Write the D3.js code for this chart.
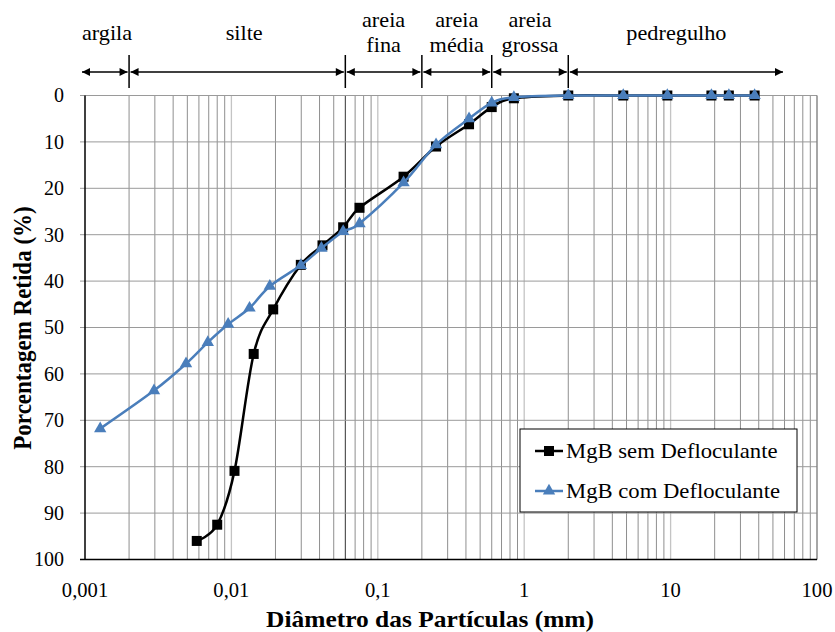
<!DOCTYPE html>
<html><head><meta charset="utf-8"><script src="https://cdn.jsdelivr.net/npm/d3@7"></script></head>
<body style="margin:0">
<svg id="s" width="835" height="632"></svg>
<script>
// ---- data ----
const diamSem = [0.0058, 0.0080, 0.0105, 0.0142, 0.0193, 0.0298, 0.0419, 0.058, 0.075, 0.15, 0.25, 0.42, 0.6, 0.85, 2.0, 4.75, 9.5, 19, 25, 37.5];
const retSem  = [96.0, 92.5, 80.9, 55.7, 46.1, 36.5, 32.3, 28.4, 24.2, 17.5, 11.0, 6.2, 2.5, 0.6, 0, 0, 0, 0, 0, 0];
const diamCom = [0.00127, 0.00296, 0.0049, 0.0069, 0.0095, 0.0133, 0.0183, 0.0298, 0.0412, 0.058, 0.075, 0.15, 0.25, 0.42, 0.6, 0.85, 2.0, 4.75, 9.5, 19, 25, 37.5];
const retCom  = [71.8, 63.6, 57.8, 53.2, 49.3, 45.8, 41.1, 36.6, 32.9, 29.3, 27.6, 18.8, 10.6, 5.0, 1.6, 0.4, 0, 0, 0, 0, 0, 0];
const seriesNames = ["MgB sem Defloculante", "MgB com Defloculante"];
const xTickValues = [0.001, 0.01, 0.1, 1, 10, 100];
const xTickLabels = ["0,001", "0,01", "0,1", "1", "10", "100"];
const yTickValues = [0, 10, 20, 30, 40, 50, 60, 70, 80, 90, 100];
const classBounds = [0.001, 0.002, 0.06, 0.2, 0.6, 2, 60];
const classNames = [["argila"], ["silte"], ["areia", "fina"], ["areia", "média"], ["areia", "grossa"], ["pedregulho"]];
const xTitle = "Diâmetro das Partículas (mm)";
const yTitle = "Porcentagem Retida (%)";
const fontName = "Liberation Serif";

// ---- layout ----
const L = 85, R = 817, T = 95.5, B = 559.5;
const svg = d3.select("#s");
const x = d3.scaleLog().domain([0.001, 100]).range([L, R]);
const y = d3.scaleLinear().domain([0, 100]).range([T, B]);

function addText(px, py, str, size, opts = {}) {
  const sx = opts.sx || 1;
  const rot = opts.rot ? ` rotate(${opts.rot})` : "";
  return svg.append("text")
    .style("font-family", `"${fontName}"`).style("font-size", size + "px")
    .style("font-weight", opts.bold ? "bold" : "normal")
    .attr("fill", "#000").attr("text-anchor", opts.anchor || "start")
    .attr("transform", `translate(${px},${py}) scale(${sx},1)${rot}`)
    .text(str);
}

// gridlines
const grid = svg.append("g");
const minorVals = [];
for (let e = -3; e < 2; e++) for (let m = 2; m <= 9; m++) minorVals.push(m * Math.pow(10, e));
grid.selectAll("line.minor").data(minorVals).join("line")
  .attr("x1", d => x(d)).attr("x2", d => x(d)).attr("y1", T).attr("y2", B)
  .attr("stroke", d => Math.abs(d - 0.06) < 1e-9 ? "#333" : "#8f8f8f").attr("stroke-width", 1);
grid.selectAll("line.major").data(xTickValues.slice(1)).join("line")
  .attr("x1", d => x(d)).attr("x2", d => x(d)).attr("y1", T).attr("y2", B)
  .attr("stroke", "#c4c4c4").attr("stroke-width", 1.3);
grid.selectAll("line.h").data(yTickValues).join("line")
  .attr("x1", L - 5).attr("x2", R).attr("y1", d => y(d)).attr("y2", d => y(d))
  .attr("stroke", "#9a9a9a").attr("stroke-width", 1);
svg.append("line").attr("x1", R).attr("x2", R).attr("y1", T).attr("y2", B).attr("stroke", "#777");
svg.append("line").attr("x1", L).attr("x2", L).attr("y1", T).attr("y2", B).attr("stroke", "#000").attr("stroke-width", 1.5);
svg.append("line").attr("x1", L - 5).attr("x2", R).attr("y1", B).attr("stroke", "#000").attr("y2", B).attr("stroke-width", 1.5);

// tick labels
xTickValues.forEach((d, i) => addText(x(d), 597, xTickLabels[i], 20, {anchor: "middle", sx: 1.03}));
yTickValues.forEach(d => addText(64, y(d) + 6.8, String(d), 20, {anchor: "end", sx: 1.0}));

// axis titles
addText(430, 627, xTitle, 24, {anchor: "middle", bold: true, sx: 1.06});
addText(31, 328, yTitle, 23, {anchor: "middle", bold: true, sx: 1.1, rot: -90});

// class annotation arrows
const defs = svg.append("defs");
function marker(id, orient) {
  defs.append("marker").attr("id", id).attr("viewBox", "0 0 10 10").attr("refX", 10).attr("refY", 5)
    .attr("markerWidth", 9).attr("markerHeight", 8).attr("markerUnits", "userSpaceOnUse")
    .attr("orient", orient)
    .append("path").attr("d", "M0,0 L10,5 L0,10 z").attr("fill", "#000");
}
marker("arrEnd", "auto");
marker("arrStart", "auto-start-reverse");
const ann = svg.append("g");
const ay = 72;
for (let i = 0; i < classBounds.length - 1; i++) {
  const x0 = x(classBounds[i]) + (i === 0 ? -3 : 1.5);
  const x1 = x(classBounds[i + 1]) - 1.5;
  ann.append("line").attr("x1", x0).attr("x2", x1).attr("y1", ay).attr("y2", ay)
    .attr("stroke", "#000").attr("stroke-width", 1.5)
    .attr("marker-start", "url(#arrStart)").attr("marker-end", "url(#arrEnd)");
}
ann.selectAll("line.b").data(classBounds.slice(1, -1)).join("line")
  .attr("x1", d => x(d)).attr("x2", d => x(d)).attr("y1", 55).attr("y2", 88)
  .attr("stroke", "#000").attr("stroke-width", 1.5);
const labelShift = {1: 7};
classNames.forEach((lines, i) => {
  const cx = (x(classBounds[i]) + x(classBounds[i + 1])) / 2 + (labelShift[i] || 0);
  const ys = lines.length === 1 ? [40] : [27, 52];
  lines.forEach((t, j) => addText(cx, ys[j], t, 21, {anchor: "middle", sx: 1.06}));
});

// series
const line = d3.line().x(d => x(d[0])).y(d => y(d[1])).curve(d3.curveCatmullRom.alpha(0));
const semData = diamSem.map((d, i) => [d, retSem[i]]);
const comData = diamCom.map((d, i) => [d, retCom[i]]);
const blue = "#4a7ebb";
const sq = 10;
const tri = d3.symbol().type(d3.symbolTriangle).size(66);

svg.append("path").datum(semData).attr("d", line).attr("fill", "none").attr("stroke", "#000").attr("stroke-width", 2.5);
svg.append("g").selectAll("rect").data(semData).join("rect")
  .attr("x", d => x(d[0]) - sq / 2).attr("y", d => y(d[1]) - sq / 2).attr("width", sq).attr("height", sq).attr("fill", "#000");

svg.append("path").datum(comData).attr("d", line).attr("fill", "none").attr("stroke", blue).attr("stroke-width", 2.5);
svg.append("g").selectAll("path").data(comData).join("path")
  .attr("d", tri).attr("transform", d => `translate(${x(d[0])},${y(d[1])})`).attr("fill", blue);

// legend
const lg = svg.append("g");
lg.append("rect").attr("x", 520).attr("y", 429).attr("width", 277).attr("height", 83)
  .attr("fill", "#fff").attr("stroke", "#000").attr("stroke-width", 1);
const ly = [451, 491];
lg.append("line").attr("x1", 535).attr("x2", 563).attr("y1", ly[0]).attr("y2", ly[0]).attr("stroke", "#000").attr("stroke-width", 2.5);
lg.append("rect").attr("x", 549 - sq / 2).attr("y", ly[0] - sq / 2).attr("width", sq).attr("height", sq).attr("fill", "#000");
lg.append("line").attr("x1", 535).attr("x2", 563).attr("y1", ly[1]).attr("y2", ly[1]).attr("stroke", blue).attr("stroke-width", 2.5);
lg.append("path").attr("d", tri).attr("transform", `translate(549,${ly[1]})`).attr("fill", blue);
seriesNames.forEach((n, i) => addText(566, ly[i] + 7, n, 21, {sx: 1.08}));
</script>
</body>
</html>
